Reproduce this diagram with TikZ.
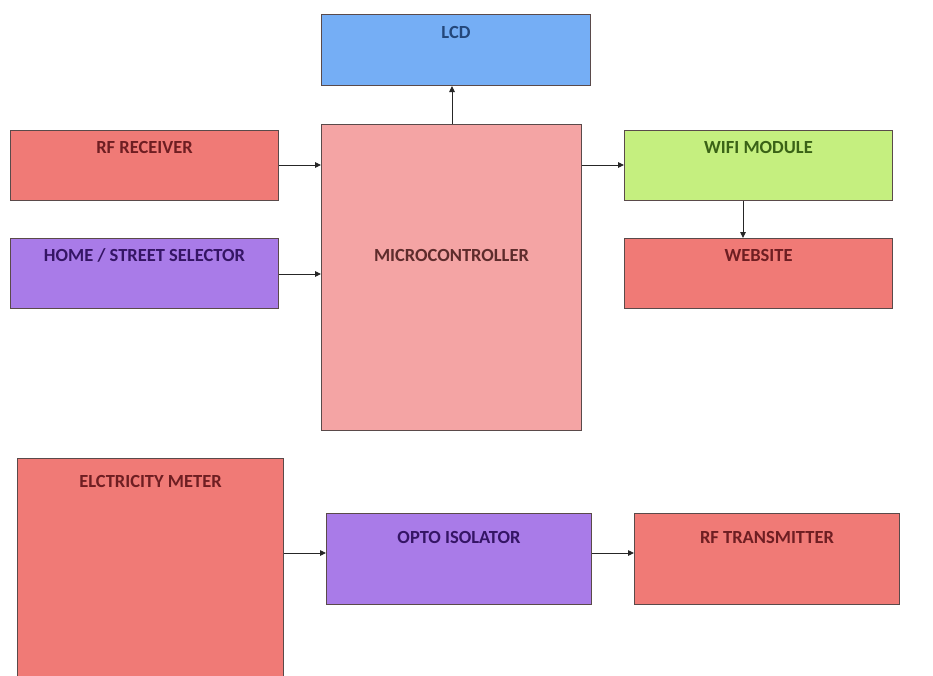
\documentclass[tikz,border=0pt]{standalone}
\usepackage{fontspec}
\setmainfont{Carlito}
\usetikzlibrary{arrows.meta}
\definecolor{cblue}{HTML}{75AEF5}
\definecolor{csalmon}{HTML}{F07A76}
\definecolor{cpurple}{HTML}{A97BE8}
\definecolor{cpink}{HTML}{F4A4A4}
\definecolor{cgreen}{HTML}{C5EF7F}
\definecolor{tblue}{HTML}{24477A}
\definecolor{tred}{HTML}{6E1E22}
\definecolor{tpurple}{HTML}{351565}
\definecolor{tpink}{HTML}{5E2C2C}
\definecolor{tgreen}{HTML}{3A6216}
\definecolor{cborder}{HTML}{5A4A4A}
\begin{document}
\begin{tikzpicture}[x=1pt,y=-1pt,
  box/.style={draw=cborder, line width=1pt, rectangle, anchor=north west, inner sep=0pt},
  lbl/.style={font=\fontsize{18.5}{20}\selectfont\bfseries, anchor=center, inner sep=0pt},
  conn/.style={draw=black!85, line width=0.9pt, -{Triangle[length=6pt,width=5.5pt]}}]
\useasboundingbox (0,0) rectangle (933,675);
\fill[white] (0,0) rectangle (933,675);
% boxes
\node[box, fill=cblue, minimum width=269pt, minimum height=71pt] (lcd) at (321,14) {};
\node[box, fill=csalmon, minimum width=268pt, minimum height=70pt] (rfr) at (10,130) {};
\node[box, fill=cpurple, minimum width=268pt, minimum height=70pt] (sel) at (10,238) {};
\node[box, fill=cpink, minimum width=260pt, minimum height=306pt] (mcu) at (321,124) {};
\node[box, fill=cgreen, minimum width=268pt, minimum height=70pt] (wifi) at (624,130) {};
\node[box, fill=csalmon, minimum width=268pt, minimum height=70pt] (web) at (624,238) {};
\node[box, fill=csalmon, minimum width=266pt, minimum height=222pt] (meter) at (17,458) {};
\node[box, fill=cpurple, minimum width=265pt, minimum height=91pt] (opto) at (326,513) {};
\node[box, fill=csalmon, minimum width=265pt, minimum height=91pt] (rft) at (634,513) {};
% labels
\node[lbl, text=tblue] (tlcd) at ([yshift=-18pt]lcd.north) {LCD};
\node[lbl, text=tred] (trfr) at ([yshift=-17pt]rfr.north) {RF RECEIVER};
\node[lbl, text=tpurple] (tsel) at ([yshift=-17pt]sel.north) {HOME / STREET SELECTOR};
\node[lbl, text=tpink] (tmcu) at ([yshift=-131pt]mcu.north) {MICROCONTROLLER};
\node[lbl, text=tgreen] (twifi) at ([yshift=-17pt]wifi.north) {WIFI MODULE};
\node[lbl, text=tred] (tweb) at ([yshift=-17pt]web.north) {WEBSITE};
\node[lbl, text=tred] (tmeter) at ([yshift=-23pt]meter.north) {ELCTRICITY METER};
\node[lbl, text=tpurple] (topto) at ([yshift=-24pt]opto.north) {OPTO ISOLATOR};
\node[lbl, text=tred] (trft) at ([yshift=-24pt]rft.north) {RF TRANSMITTER};
% connectors
\draw[conn] (mcu.north -| 452,0) -- (lcd.south -| 452,0);
\draw[conn] (rfr.east |- 0,165) -- (mcu.west |- 0,165);
\draw[conn] (sel.east |- 0,274) -- (mcu.west |- 0,274);
\draw[conn] (mcu.east |- 0,165) -- (wifi.west |- 0,165);
\draw[conn] (wifi.south -| 743,0) -- (web.north -| 743,0);
\draw[conn] (meter.east |- 0,553) -- (opto.west |- 0,553);
\draw[conn] (opto.east |- 0,553) -- (rft.west |- 0,553);
\end{tikzpicture}
\end{document}
